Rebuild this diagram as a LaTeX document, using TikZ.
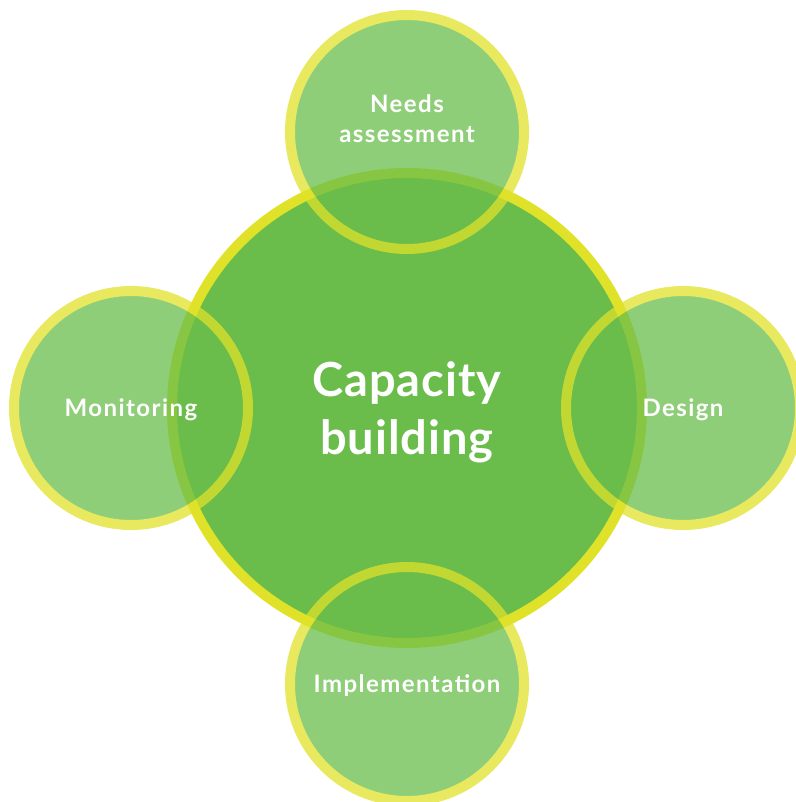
\documentclass[tikz,border=0pt]{standalone}
\usepackage{fontspec}
\setmainfont{Lato}
\newfontfamily\capacityfont{Lato}[LetterSpace=2]
\newfontfamily\stagefont{Lato}[LetterSpace=6]
\definecolor{leafgreen}{RGB}{106,189,75}
\definecolor{limeyellow}{RGB}{224,226,42}
\tikzstyle{capacitystyle} = [circle,
minimum size=470pt,
draw=limeyellow,
line width=10pt,
fill=leafgreen,
text=white,
align=center,
text depth=0pt,
font=\capacityfont\bfseries\fontsize{47}{58}\selectfont]
\tikzstyle{stagestyle} = [circle,
minimum size=234pt,
draw=limeyellow,
line width=10pt,
fill=leafgreen]
\tikzstyle{labelstyle} = [text=white,
align=center,
text height=17pt,
text depth=0pt,
font=\stagefont\bfseries\fontsize{24}{30}\selectfont]

\begin{document}
\begin{tikzpicture}[x=1pt,y=1pt,node distance=276pt]
\useasboundingbox (0,0) rectangle (795,-802);
\node (capacity) [capacitystyle] at (407,-408) {Capacity\\building};

% the four stages sit on top, seen through
\begin{scope}[transparency group, opacity=0.75]
\node (needs) [stagestyle, above of=capacity] {};
\node (design) [stagestyle, right of=capacity] {};
\node (implementation) [stagestyle, below of=capacity] {};
\node (monitoring) [stagestyle, left of=capacity] {};
\end{scope}

\node (needslabel) [labelstyle, text height=47pt, yshift=13pt] at (needs) {Needs\\assessment};
\node (designlabel) [labelstyle] at (design) {Design};
\node (implementationlabel) [labelstyle] at (implementation) {Implementation};
\node (monitoringlabel) [labelstyle] at (monitoring) {Monitoring};
\end{tikzpicture}
\end{document}
